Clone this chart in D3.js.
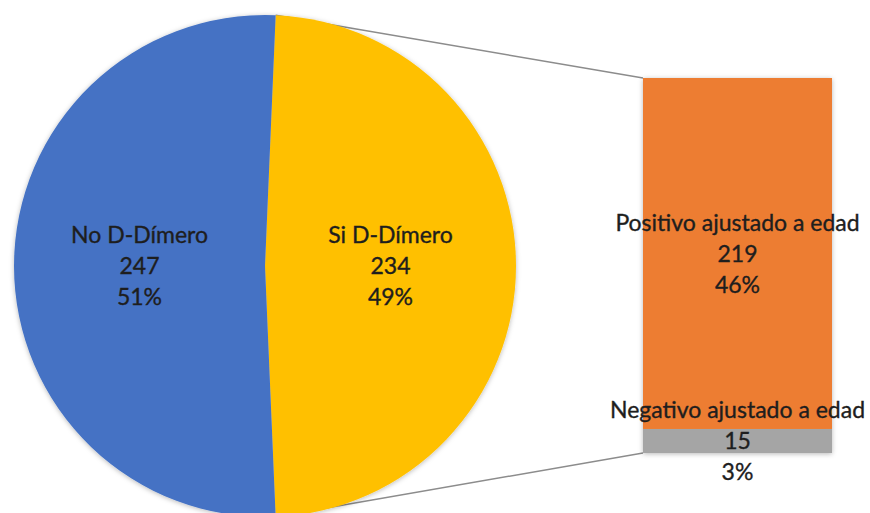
<!DOCTYPE html>
<html><head><meta charset="utf-8">
<script src="https://cdn.jsdelivr.net/npm/d3@7"></script>
<style>
html,body{margin:0;padding:0;background:#fff;}
svg{display:block;}
text{font-family:Lato,"Open Sans",sans-serif;fill:#1e1e1e;}
</style></head>
<body>
<svg id="chart" width="870" height="513"></svg>
<script>
// Pie data (order: split slice first)
const pieCategories = ["Si D-Dímero", "No D-Dímero"];
const pieValues = [234, 247];
const pieColors = ["#FFC000", "#4472C4"];
// Bar (breakdown of "Si D-Dímero"), bottom to top
const barCategories = ["Negativo ajustado a edad", "Positivo ajustado a edad"];
const barValues = [15, 219];
const barColors = ["#A5A5A5", "#ED7D31"];

const svg = d3.select("#chart");
const total = d3.sum(pieValues);
const fmtPct = v => Math.round(v / total * 100) + "%";

const defs = svg.append("defs");
const f = defs.append("filter").attr("id","sh").attr("x","-10%").attr("y","-10%").attr("width","120%").attr("height","120%");
f.append("feDropShadow").attr("dx",0).attr("dy",1).attr("stdDeviation",2.5).attr("flood-color","#000").attr("flood-opacity",0.28);

const cx = 265, cy = 266, r = 251;
const splitAngle = 2 * Math.PI * pieValues[0] / total;
const pie = d3.pie().sort(null).value(d => d)
  .startAngle(Math.PI / 2 - splitAngle / 2)
  .endAngle(Math.PI / 2 - splitAngle / 2 + 2 * Math.PI);
const arcs = pie(pieValues);
const arc = d3.arc().innerRadius(0).outerRadius(r);

// bar scales
const barX = d3.scaleBand().domain(["bar"]).range([643, 832]).padding(0);
const y = d3.scaleLinear().domain([0, d3.sum(barValues)]).range([453, 78]);
const stacked = [];
let acc = 0;
barValues.forEach((v, i) => { stacked.push({cat: barCategories[i], v, y0: acc, y1: acc + v, color: barColors[i]}); acc += v; });

// connector lines
const s = arcs[0];
const pt = a => [cx + r * Math.sin(a), cy - r * Math.cos(a)];
const pTop = pt(s.startAngle), pBot = pt(s.endAngle);
const conn = svg.append("g");
conn.append("line").attr("x1", pTop[0]).attr("y1", pTop[1]).attr("x2", barX("bar")).attr("y2", y(d3.sum(barValues)))
  .attr("stroke", "#8c8c8c").attr("stroke-width", 1.5);
conn.append("line").attr("x1", pBot[0]).attr("y1", pBot[1]).attr("x2", barX("bar")).attr("y2", y(0))
  .attr("stroke", "#8c8c8c").attr("stroke-width", 1.5);

// pie
const pg = svg.append("g").attr("transform", `translate(${cx},${cy})`).attr("filter","url(#sh)");
pg.selectAll("path").data(arcs).join("path")
  .attr("d", arc).attr("fill", (d, i) => pieColors[i]);

// bar
const bg = svg.append("g").attr("filter","url(#sh)");
bg.selectAll("rect").data(stacked).join("rect")
  .attr("x", barX("bar")).attr("width", barX.bandwidth())
  .attr("y", d => y(d.y1)).attr("height", d => y(d.y0) - y(d.y1))
  .attr("fill", d => d.color);

const fs = 23, lh = 31;
function label(x, yc, lines) {
  const t = svg.append("text").attr("text-anchor", "middle").attr("font-size", fs)
    .attr("stroke", "#1e1e1e").attr("stroke-width", 0.35);
  lines.forEach((l, i) => {
    t.append("tspan").attr("x", x).attr("y", yc + (i - 1) * lh + fs * 0.36).text(l);
  });
}
// pie labels
const lArc = d3.arc().innerRadius(0).outerRadius(r);
arcs.forEach((d, i) => {
  const c = lArc.centroid(d);
  label(cx + c[0], cy + c[1], [pieCategories[i], String(pieValues[i]), fmtPct(pieValues[i])]);
});
// bar labels
stacked.forEach(d => {
  label(barX("bar") + barX.bandwidth() / 2, (y(d.y0) + y(d.y1)) / 2, [d.cat, String(d.v), fmtPct(d.v)]);
});
</script>
</body></html>
